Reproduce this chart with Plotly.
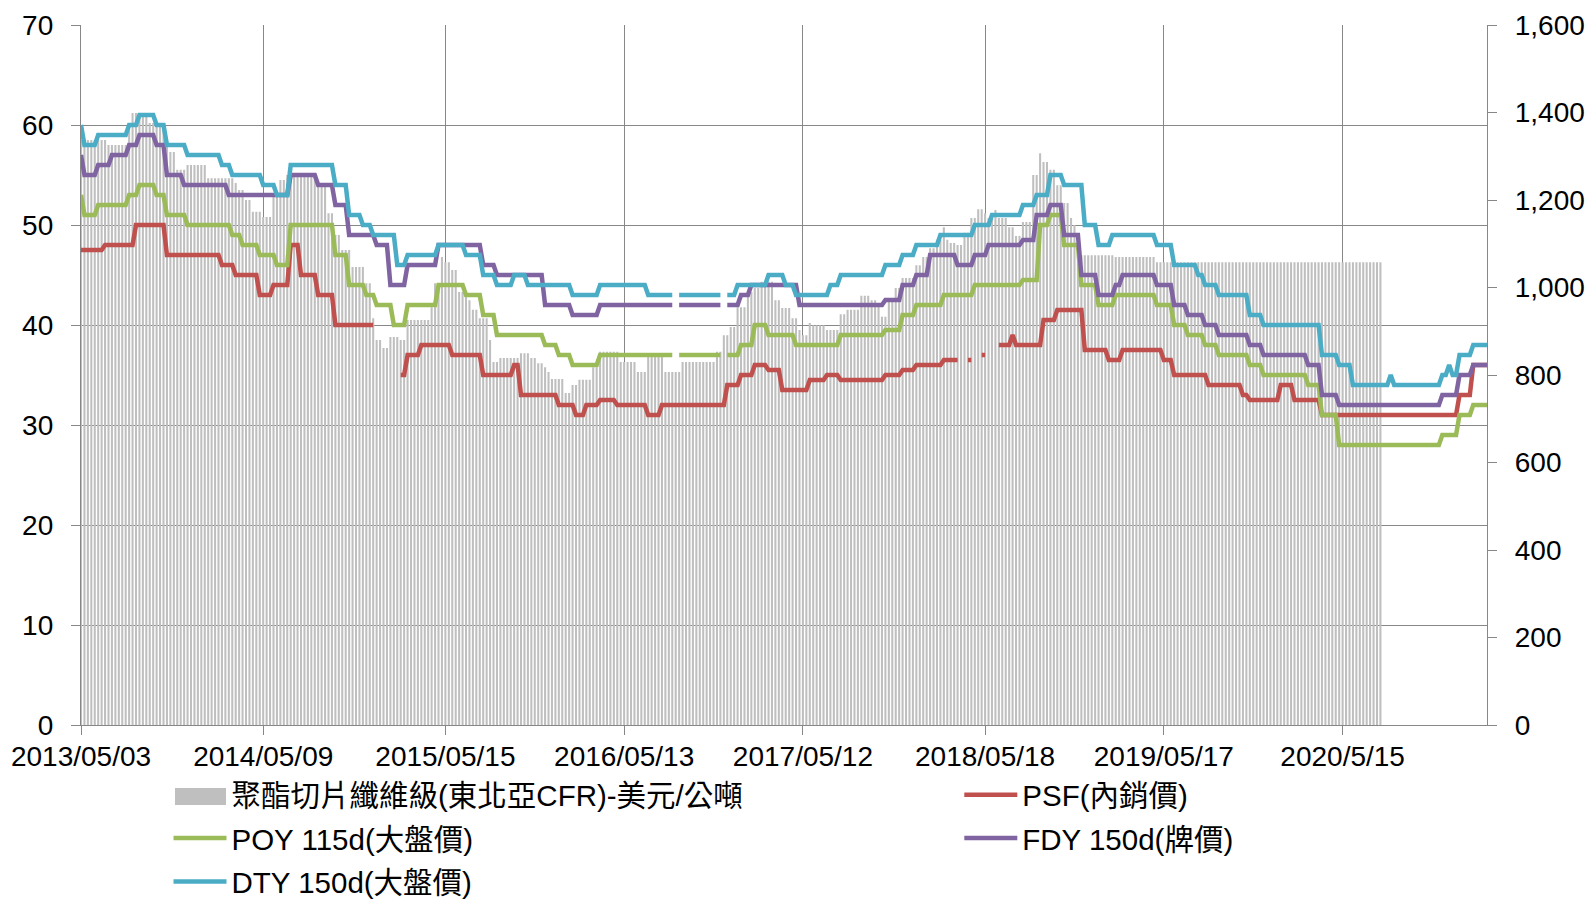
import pandas as pd
import plotly.graph_objects as go

# ---------------- data ----------------
N_WEEKS = 410
week_dates = pd.date_range("2013-05-03", periods=N_WEEKS, freq="7D")
categories = [d.strftime("%Y-%m-%d") for d in week_dates]

tick_dates = ["2013-05-03", "2014-05-09", "2015-05-15", "2016-05-13",
              "2017-05-12", "2018-05-18", "2019-05-17", "2020-05-15"]
tick_labels = ["2013/05/03", "2014/05/09", "2015/05/15", "2016/05/13",
               "2017/05/12", "2018/05/18", "2019/05/17", "2020/5/15"]

# price change points: (week number counted from 2013/05/03, value); None = no quote
bar_runs = [(0, 1337), (8, 1326), (14, 1360), (15, 1399), (20, 1376), (25, 1337), (26, 1310),
            (28, 1269), (31, 1280), (37, 1250), (45, 1239), (46, 1223), (48, 1200), (50, 1173),
            (53, 1161), (56, 1207), (58, 1246), (60, 1257), (61, 1262), (69, 1234), (72, 1170),
            (74, 1120), (76, 1086), (79, 1047), (83, 1010), (85, 930), (86, 880), (88, 862),
            (90, 887), (93, 880), (95, 926), (102, 955), (103, 1010), (105, 1070), (106, 1058),
            (108, 1040), (110, 990), (113, 971), (114, 949), (116, 930), (119, 880), (120, 830),
            (122, 839), (128, 850), (131, 839), (133, 827), (135, 818), (136, 807), (137, 791),
            (141, 759), (143, 777), (145, 789), (149, 818), (151, 853), (157, 830), (162, 807),
            (165, 841), (170, 807), (175, 830), (185, 853), (187, 891), (189, 910), (191, 955),
            (194, 990), (196, 999), (198, 1013), (202, 971), (204, 953), (207, 930), (209, 903),
            (210, 891), (212, 919), (213, 914), (217, 903), (221, 939), (223, 949), (227, 981),
            (230, 971), (232, 960), (233, 933), (235, 971), (237, 999), (239, 1022), (243, 1051),
            (245, 1070), (247, 1090), (249, 1109), (251, 1138), (252, 1109), (253, 1102),
            (255, 1097), (257, 1125), (259, 1159), (261, 1179), (263, 1170), (264, 1159),
            (266, 1177), (267, 1159), (270, 1138), (272, 1118), (274, 1150), (277, 1257),
            (279, 1307), (280, 1287), (282, 1269), (284, 1234), (286, 1193), (288, 1159),
            (289, 1143), (290, 1074), (301, 1070), (313, 1058), (379, None)]

psf_runs = [(0, 47.5), (7, 48), (16, 50), (25, 47), (41, 46), (45, 45), (52, 43), (56, 44),
            (61, 48), (64, 45), (69, 43), (74, 40), (86, None), (93, 35), (95, 37), (99, 38),
            (108, 37), (117, 35), (126, 36), (128, 33), (139, 32), (144, 31), (147, 32),
            (151, 32.5), (156, 32), (165, 31), (169, 32), (188, 34), (192, 35), (196, 36),
            (200, 35.5), (204, 33.5), (212, 34.5), (217, 35), (221, 34.5), (234, 35), (239, 35.5),
            (243, 36), (251, 36.5), (256, None), (258, 36.5), (260, None), (262, 37), (264, None),
            (267, 38), (271, 39), (272, 38), (280, 40.5), (284, 41.5), (292, 37.5), (299, 36.5),
            (303, 37.5), (315, 36.5), (318, 35), (328, 34), (338, 33), (340, 32.5), (349, 34),
            (353, 32.5), (361, 31), (401, 33), (405, 36)]

poy_runs = [(0, 53), (1, 51), (5, 52), (14, 53), (17, 54), (22, 53), (25, 51), (31, 50),
            (44, 49), (47, 48), (52, 47), (57, 46), (61, 50), (74, 47), (78, 44), (83, 43),
            (86, 42), (91, 40), (95, 42), (104, 44), (112, 43), (117, 41), (121, 39), (135, 38),
            (139, 37), (143, 36), (151, 37), (173, None), (174, 37), (187, None), (188, 37),
            (192, 38), (196, 40), (200, 39), (208, 38), (221, 39), (234, 39.5), (239, 41),
            (243, 42), (251, 43), (260, 44), (274, 44.5), (279, 50), (282, 51), (286, 48),
            (291, 44), (296, 42), (301, 43), (313, 42), (318, 40), (322, 39), (327, 38),
            (331, 37), (340, 36), (344, 35), (357, 34), (361, 31), (366, 28), (396, 29),
            (401, 31), (405, 32)]

fdy_runs = [(0, 57), (1, 55), (5, 56), (9, 57), (14, 58), (17, 59), (22, 58), (25, 55),
            (30, 54), (43, 53), (61, 55), (69, 54), (74, 52), (78, 49), (86, 48), (90, 44),
            (95, 46), (104, 48), (117, 46), (121, 45), (135, 42), (143, 41), (151, 42),
            (173, None), (174, 42), (187, None), (188, 42), (192, 43), (195, 44), (209, 42),
            (234, 42.5), (239, 44), (243, 45), (247, 47), (255, 46), (260, 47), (264, 48),
            (274, 48.5), (278, 51), (282, 52), (286, 49), (291, 45), (296, 43), (301, 44),
            (303, 45), (313, 44), (318, 42), (322, 41), (327, 40), (331, 39), (340, 38),
            (344, 37), (357, 36), (361, 33), (366, 32), (396, 33), (401, 35), (405, 36)]

dty_runs = [(0, 60), (1, 58), (5, 59), (14, 60), (17, 61), (22, 60), (25, 58), (31, 57),
            (41, 56), (44, 55), (53, 54), (57, 53), (61, 56), (74, 54), (78, 51), (82, 50),
            (85, 49), (92, 46), (95, 47), (104, 48), (112, 47), (117, 45), (121, 44), (126, 45),
            (130, 44), (143, 43), (151, 44), (165, 43), (173, None), (174, 43), (187, None),
            (188, 43), (191, 44), (200, 45), (205, 44), (208, 43), (218, 44), (221, 45),
            (234, 46), (239, 47), (243, 48), (250, 49), (260, 50), (265, 51), (274, 52),
            (278, 53), (282, 55), (286, 54), (292, 50), (296, 48), (300, 49), (313, 48),
            (318, 46), (325, 45), (327, 44), (331, 43), (340, 41), (344, 40), (361, 37),
            (366, 36), (370, 34), (381, 35), (382, 34), (396, 35), (398, 36), (399, 35),
            (401, 37), (405, 38)]

series_names = ["聚酯切片纖維級(東北亞CFR)-美元/公噸", "PSF(內銷價)", "POY 115d(大盤價)",
                "FDY 150d(牌價)", "DTY 150d(大盤價)"]
series_colors = ["#BFBFBF", "#C0504D", "#9BBB59", "#8064A2", "#4BACC6"]


def weekly(runs, n):
    """Hold each quoted price until the next change point."""
    out = [None] * n
    for k, (start, val) in enumerate(runs):
        end = runs[k + 1][0] if k + 1 < len(runs) else n
        for i in range(start, min(end, n)):
            out[i] = val
    return out


# ---------------- figure ----------------
FONT = "Liberation Sans, Arial, Noto Sans CJK TC, sans-serif"
GRID = "#878787"
W, H = 1590, 899
ML, MR, MT, MB = 81, 103, 25, 174
PW, PH = W - ML - MR, H - MT - MB


def px_x(x):  # pixel -> paper fraction (legend placement only)
    return (x - ML) / PW


def px_y(y):
    return (H - MB - y) / PH


fig = go.Figure()
fig.add_trace(go.Bar(
    x=categories, y=weekly(bar_runs, N_WEEKS), name=series_names[0],
    marker=dict(color=series_colors[0], line=dict(width=0)),
    yaxis="y", legend="legend", legendgroup="g0"))

line_runs = [psf_runs, poy_runs, fdy_runs, dty_runs]
legend_of = ["legend2", "legend", "legend2", "legend"]
for k, runs in enumerate(line_runs):
    fig.add_trace(go.Scatter(
        x=categories, y=weekly(runs, N_WEEKS), name=series_names[k + 1], mode="lines",
        line=dict(color=series_colors[k + 1], width=4.5), connectgaps=False,
        yaxis="y2", legend=legend_of[k], legendgroup="g%d" % (k + 1)))

axis_font = dict(family=FONT, size=28, color="#000000")
legend_common = dict(orientation="v", xanchor="left", yanchor="top", y=px_y(769),
                     font=dict(family=FONT, size=29.5, color="#000000"),
                     itemwidth=53, tracegroupgap=2, bgcolor="rgba(0,0,0,0)",
                     traceorder="grouped")

fig.update_layout(
    width=W, height=H,
    margin=dict(l=ML, r=MR, t=MT, b=MB, autoexpand=False),
    paper_bgcolor="white", plot_bgcolor="white",
    bargap=0.4,
    showlegend=True,
    xaxis=dict(type="category", range=[0, N_WEEKS - 1],
               tickmode="array", tickvals=tick_dates, ticktext=tick_labels,
               tickangle=0, tickfont=axis_font,
               showgrid=True, gridcolor=GRID, gridwidth=1.3,
               ticks="outside", ticklen=9, tickcolor=GRID, tickwidth=1.3,
               showline=True, linecolor=GRID, linewidth=1.3, zeroline=False,
               ticklabelstandoff=-3),
    yaxis=dict(side="right", range=[0, 1600], tickmode="linear", tick0=0, dtick=200,
               tickformat=",", tickfont=axis_font, showgrid=False, zeroline=False,
               ticks="outside", ticklen=9, tickcolor=GRID, tickwidth=1.3,
               showline=True, linecolor=GRID, linewidth=1.3, ticklabelstandoff=12),
    yaxis2=dict(overlaying="y", side="left", range=[0, 70], tickmode="linear", tick0=0,
                dtick=10, tickfont=axis_font, showgrid=True, gridcolor=GRID, gridwidth=1.3,
                zeroline=False, ticks="outside", ticklen=9, tickcolor=GRID, tickwidth=1.3,
                showline=True, linecolor=GRID, linewidth=1.3, ticklabelstandoff=12),
    legend=dict(x=px_x(168.5), **legend_common),
    legend2=dict(x=px_x(959.3), **legend_common),
    # wide grey swatch behind the bar series' legend symbol
    shapes=[dict(type="rect", xref="paper", yref="paper", layer="below",
                 x0=px_x(175), x1=px_x(226), y0=px_y(805), y1=px_y(788),
                 fillcolor=series_colors[0], line=dict(width=0))],
)

# the page's default 8px body margin would shift the whole chart; remove it
fig.write_html("out.html",
               config={"displayModeBar": False},
               post_script="document.body.style.margin='0px';"
                           "document.body.style.overflow='hidden';")
